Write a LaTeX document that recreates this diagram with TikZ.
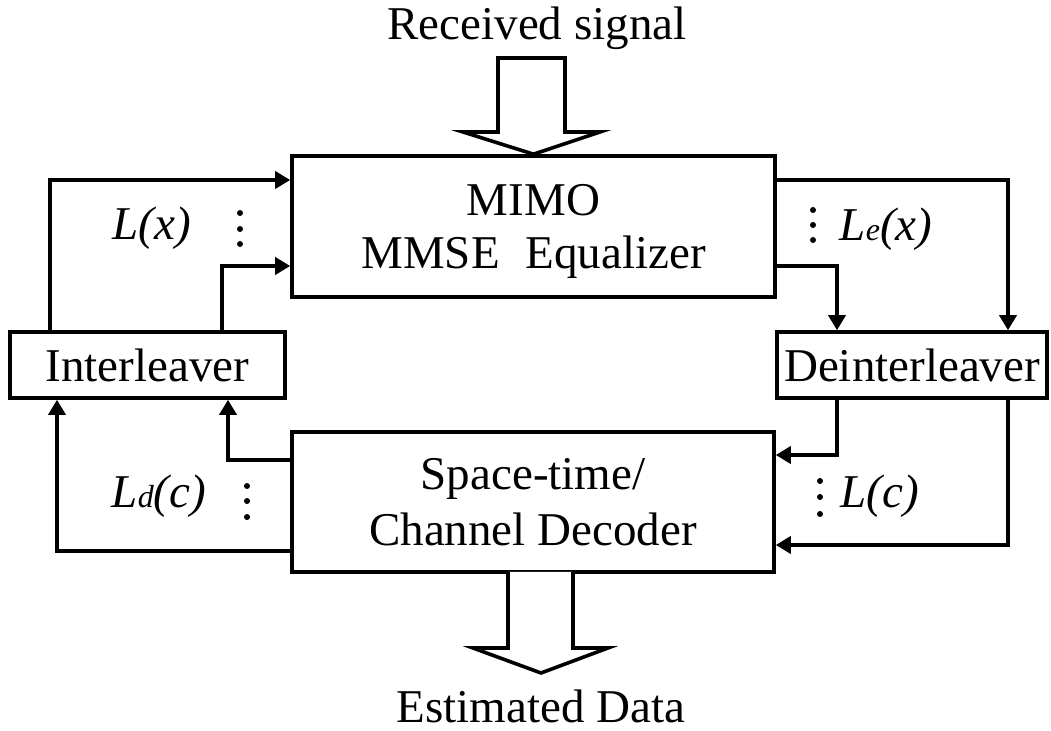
\documentclass[tikz,border=0pt]{standalone}
\usepackage{fontspec}
\setmainfont{Liberation Serif}
\usetikzlibrary{arrows.meta}
\begin{document}
\begin{tikzpicture}[x=0.5pt,y=-0.5pt,
  line width=1.8pt,
  box/.style={draw,line width=1.8pt,inner sep=0pt,align=center},
  arr/.style={-{Triangle[length=7.5pt,width=8.5pt]}},
  lbl/.style={font=\fontsize{23.5}{27}\selectfont\itshape,anchor=base,inner sep=0pt},
  txt/.style={font=\fontsize{23.5}{27}\selectfont,anchor=base,inner sep=0pt},
  hollow/.style={draw,fill=white,line width=1.8pt,line join=miter}]
\useasboundingbox (0,0) rectangle (1051,731);

% blocks
\node[box,minimum width=241.5pt,minimum height=70.5pt,font=\fontsize{23.5}{26.5}\selectfont] (mimo) at (533.5,226.5) {\rule{0pt}{20.5pt}MIMO\\MMSE\hspace{0.55em}Equalizer};
\node[box,minimum width=241pt,minimum height=70pt,font=\fontsize{23.5}{28}\selectfont] (dec) at (533,502) {Space-time/\\Channel Decoder};
\node[box,minimum width=137.5pt,minimum height=33pt,font=\fontsize{23.5}{27}\selectfont] (inter) at (147.5,365) {Interleaver};
\node[box,minimum width=135pt,minimum height=33pt,font=\fontsize{23.5}{27}\selectfont] (deint) at (912,365) {Deinterleaver};

% connectors
\coordinate (a1) at (50,180);
\coordinate (a2) at (222,266);
\coordinate (b1) at (1008,180);
\coordinate (b2) at (837,266);
\coordinate (c1) at (837,455);
\coordinate (c2) at (1008,545);
\coordinate (d1) at (228,460);
\coordinate (d2) at (57,551);
\draw[arr] (inter.north -| a1) |- (mimo.west |- a1);
\draw[arr] (inter.north -| a2) |- (mimo.west |- a2);
\draw[arr] (mimo.east |- b1) -| (deint.north -| b1);
\draw[arr] (mimo.east |- b2) -| (deint.north -| b2);
\draw[arr] (deint.south -| c1) |- (dec.east |- c1);
\draw[arr] (deint.south -| c2) |- (dec.east |- c2);
\draw[arr] (dec.west |- d1) -| (inter.south -| d1);
\draw[arr] (dec.west |- d2) -| (inter.south -| d2);

% hollow arrows
\draw[hollow] (498,58) -- (498,132) -- (463,132) -- (mimo.north) -- (600,132) -- (565,132) -- (565,58) -- cycle;
\draw[hollow] (508,572) -- (508,648) -- (473,648) -- (541,673) -- (608,648) -- (573,648) -- (573,572);

% texts
\node[txt] (recv) at (537,40) {Received signal};
\node[txt] (est) at (541,723) {Estimated Data};
\node[lbl] (lx) at (152,240) {L(x)};
\node[lbl] (lex) at (886,241) {L{\fontsize{16}{16}\selectfont e}(x)};
\node[lbl] (ldc) at (159,508) {L{\fontsize{16}{16}\selectfont d}(c)};
\node[lbl] (lc) at (880,508) {L(c)};

% dots
\foreach \x/\y in {240/213,240/229,240/244, 813/210,813/225,813/240, 247/486,247/501,247/517, 820/481,820/497,820/514}
  \fill (\x,\y) circle[radius=3];
\end{tikzpicture}
\end{document}
